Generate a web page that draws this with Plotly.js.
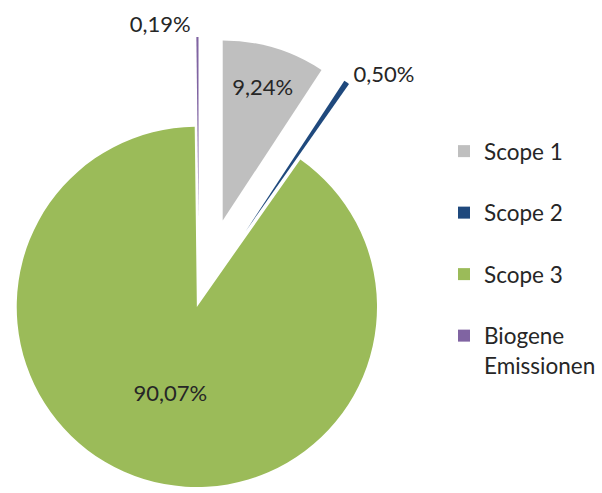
<!DOCTYPE html>
<html>
<head>
<meta charset="utf-8">
<script src="https://cdn.plot.ly/plotly-3.0.1.min.js"></script>
<style>
  html, body { margin: 0; padding: 0; background: #ffffff; overflow: hidden; }
  #frame { position: relative; width: 602px; height: 493px; overflow: hidden; background: #ffffff; }
  #chart { position: absolute; left: -70px; top: 0px; width: 700px; height: 570px; }
</style>
</head>
<body>
<div id="frame"><div id="chart"></div></div>
<script>
// ---- data ----
const categories = ["Scope 1", "Scope 2", "Scope 3", "Biogene Emissionen"];
const legendLabels = ["Scope 1<br>", "Scope 2<br>", "Scope 3<br>", "Biogene<br>Emissionen"];
const shares = [9.24, 0.50, 90.07, 0.19];
const sliceColors = ["#bfbfbf", "#1f497d", "#9bbb59", "#8064a2"];
const explode = [0.46, 0.46, 0.04, 0.46];
const textPositions = ["inside", "outside", "inside", "outside"];

const trace = {
  type: "pie",
  labels: legendLabels,
  values: shares,
  customdata: categories,
  sort: false,
  direction: "clockwise",
  rotation: 0,
  pull: explode,
  marker: { colors: sliceColors, line: { width: 0 } },
  texttemplate: "%{percent:.2%}",
  textposition: textPositions,
  insidetextorientation: "horizontal",
  insidetextfont: { family: "Lato, 'Open Sans', sans-serif", size: 22, color: "#262626" },
  outsidetextfont: { family: "Lato, 'Open Sans', sans-serif", size: 22, color: "#262626" },
  hovertemplate: "%{customdata}: %{percent:.2%}<extra></extra>",
  domain: { x: [6/700, 532/700], y: [7/570, 533/570] }
};

const layout = {
  width: 700,
  height: 570,
  margin: { l: 0, r: 0, t: 0, b: 0 },
  paper_bgcolor: "#ffffff",
  separators: ",.",
  font: { family: "Lato, 'Open Sans', sans-serif", size: 22, color: "#262626" },
  showlegend: true,
  legend: {
    x: 514/700, xanchor: "left",
    y: (570 - 130)/570, yanchor: "top",
    valign: "top",
    bgcolor: "rgba(0,0,0,0)",
    borderwidth: 0,
    font: { family: "Lato, 'Open Sans', sans-serif", size: 22.5, color: "#262626" }
  }
};

Plotly.newPlot("chart", [trace], layout, { displayModeBar: false, staticPlot: true });
</script>
</body>
</html>
